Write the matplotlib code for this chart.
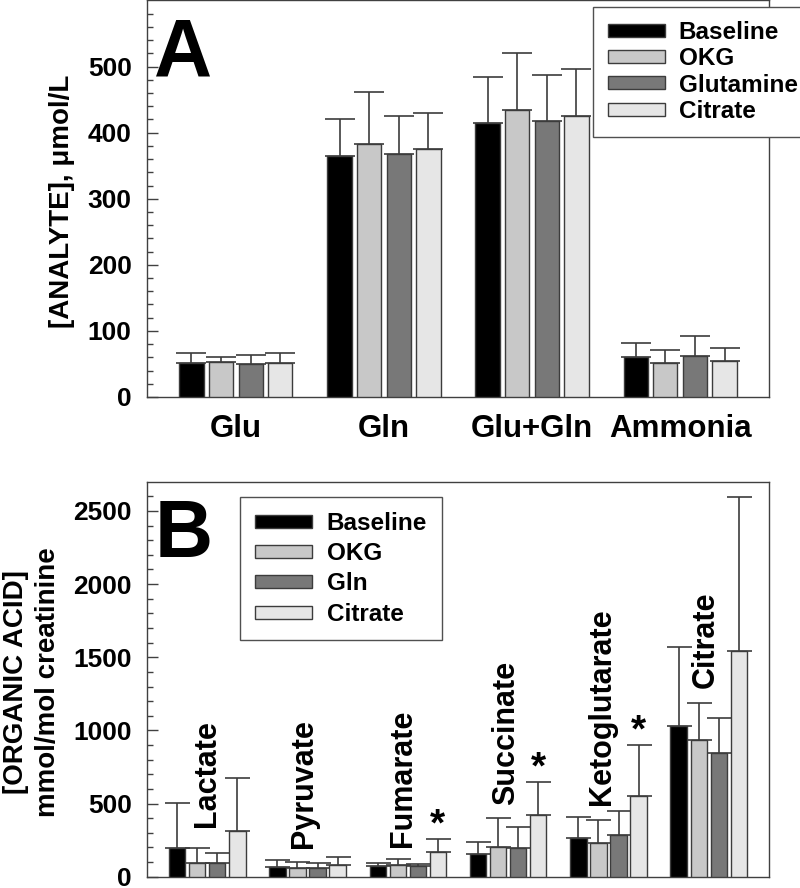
import matplotlib.pyplot as plt
import numpy as np

plt.rcParams['font.family'] = ['Liberation Sans', 'DejaVu Sans']
plt.rcParams['font.weight'] = 'bold'

# ---- panel A: plasma analytes (umol/L) ----
analytes = ["Glu", "Gln", "Glu+Gln", "Ammonia"]
legend_a = ["Baseline", "OKG", "Glutamine", "Citrate"]
a_base = [52, 365, 415, 60]
a_okg = [53, 383, 435, 52]
a_gln = [50, 367, 417, 62]
a_cit = [51, 375, 425, 55]
a_base_sd = [14, 55, 69, 21]
a_okg_sd = [7, 79, 85, 19]
a_gln_sd = [13, 58, 70, 30]
a_cit_sd = [16, 55, 71, 19]

# ---- panel B: urinary organic acids (mmol/mol creatinine) ----
acids = ["Lactate", "Pyruvate", "Fumarate", "Succinate", "Ketoglutarate", "Citrate"]
legend_b = ["Baseline", "OKG", "Gln", "Citrate"]
b_base = [193, 68, 70, 155, 266, 1027]
b_okg = [93, 61, 82, 205, 230, 932]
b_gln = [95, 61, 70, 193, 286, 843]
b_cit = [309, 80, 170, 425, 555, 1545]
b_base_sd = [311, 48, 21, 79, 143, 546]
b_okg_sd = [105, 39, 41, 195, 156, 254]
b_gln_sd = [66, 32, 14, 148, 162, 243]
b_cit_sd = [368, 52, 87, 220, 345, 1053]
starred = ["Fumarate", "Succinate", "Ketoglutarate"]  # * on Citrate bar

colors = ["#000000", "#c8c8c8", "#787878", "#e6e6e6"]
edge = "#3c3c3c"
offsets = [-0.3, -0.1, 0.1, 0.3]
width = 0.164


def draw_bars(ax, means, sds, labels, capsize):
    x = np.arange(len(means[0]))
    for i in range(4):
        ax.bar(x + offsets[i], means[i], width, color=colors[i], edgecolor=edge,
               linewidth=1, label=labels[i], zorder=3)
        ax.errorbar(x + offsets[i], means[i], yerr=[np.zeros(len(x)), sds[i]],
                    fmt='none', ecolor=edge, elinewidth=1.2, capsize=capsize,
                    capthick=1.2, zorder=2)
    return x


def style(ax):
    for s in ax.spines.values():
        s.set_color("#404040")
        s.set_linewidth(1)
    ax.tick_params(axis='y', which='major', direction='in', length=8, width=1,
                   labelsize=19, pad=11, color="#404040")
    ax.tick_params(axis='y', which='minor', direction='in', length=4, width=1,
                   color="#404040")


fig = plt.figure(figsize=(8, 8.88), dpi=100)

# panel A
axA = fig.add_axes([147/800, 1 - 397/888, 622/800, 396.5/888])
xa = draw_bars(axA, [a_base, a_okg, a_gln, a_cit],
               [a_base_sd, a_okg_sd, a_gln_sd, a_cit_sd], legend_a, 11)
axA.set_xlim(-0.6, 3.6)
axA.set_ylim(0, 600)
axA.set_yticks(np.arange(0, 501, 100))
axA.set_yticks(np.arange(0, 600, 20), minor=True)
axA.set_xticks(xa)
axA.set_xticklabels(analytes)
axA.tick_params(axis='x', length=0, labelsize=22.5, pad=12)
style(axA)
fig.text(62/800, 1 - 201/888, "[ANALYTE], μmol/L", rotation=90, fontsize=20,
         ha='center', va='center')
fig.text(154/800, 1 - 75/888, "A", fontsize=58, ha='left', va='baseline')
axA.legend(loc='upper left', bbox_to_anchor=(593/800, 1 - 6.7/888),
           bbox_transform=fig.transFigure, borderaxespad=0, fontsize=17.5,
           handlelength=2.35, handleheight=0.45, handletextpad=0.58,
           labelspacing=0.13, borderpad=0.6, fancybox=False,
           edgecolor="#505050", framealpha=1).get_frame().set_linewidth(1)

# panel B
axB = fig.add_axes([147/800, 1 - 876.7/888, 622/800, 395/888])
xb = draw_bars(axB, [b_base, b_okg, b_gln, b_cit],
               [b_base_sd, b_okg_sd, b_gln_sd, b_cit_sd], legend_b, 9)
axB.set_xlim(-0.6, 5.6)
axB.set_ylim(0, 2700)
axB.set_yticks(np.arange(0, 2501, 500))
axB.set_yticks(np.arange(0, 2700, 100), minor=True)
axB.set_xticks([])
style(axB)

# rotated acid names
label_y = [340, 195, 205, 490, 490, 1290]
label_dx = [0.0, -0.04, -0.05, -0.02, -0.06, -0.03]
for i, name in enumerate(acids):
    axB.text(xb[i] + label_dx[i], label_y[i], name, rotation=90, fontsize=22,
             ha='center', va='bottom')

for name in starred:
    i = acids.index(name)
    top = b_cit[i] + b_cit_sd[i]
    axB.annotate("*", (xb[i] + offsets[3], top), xytext=(0, 10),
                 textcoords='offset points', ha='center', va='center',
                 fontsize=28)

fig.text(32/800, 1 - 682/888, "[ORGANIC ACID]\nmmol/mol creatinine", rotation=90,
         fontsize=20, ha='center', va='center', multialignment='center',
         linespacing=1.3)
fig.text(155/800, 1 - 557/888, "B", fontsize=58, ha='left', va='baseline')
axB.legend(loc='upper left', bbox_to_anchor=(240/800, 1 - 497.3/888),
           bbox_transform=fig.transFigure, borderaxespad=0, fontsize=17.5,
           handlelength=2.35, handleheight=0.45, handletextpad=0.62,
           labelspacing=0.3, borderpad=0.6, fancybox=False,
           edgecolor="#505050", framealpha=1).get_frame().set_linewidth(1)

fig.savefig("out.png", dpi=100)
